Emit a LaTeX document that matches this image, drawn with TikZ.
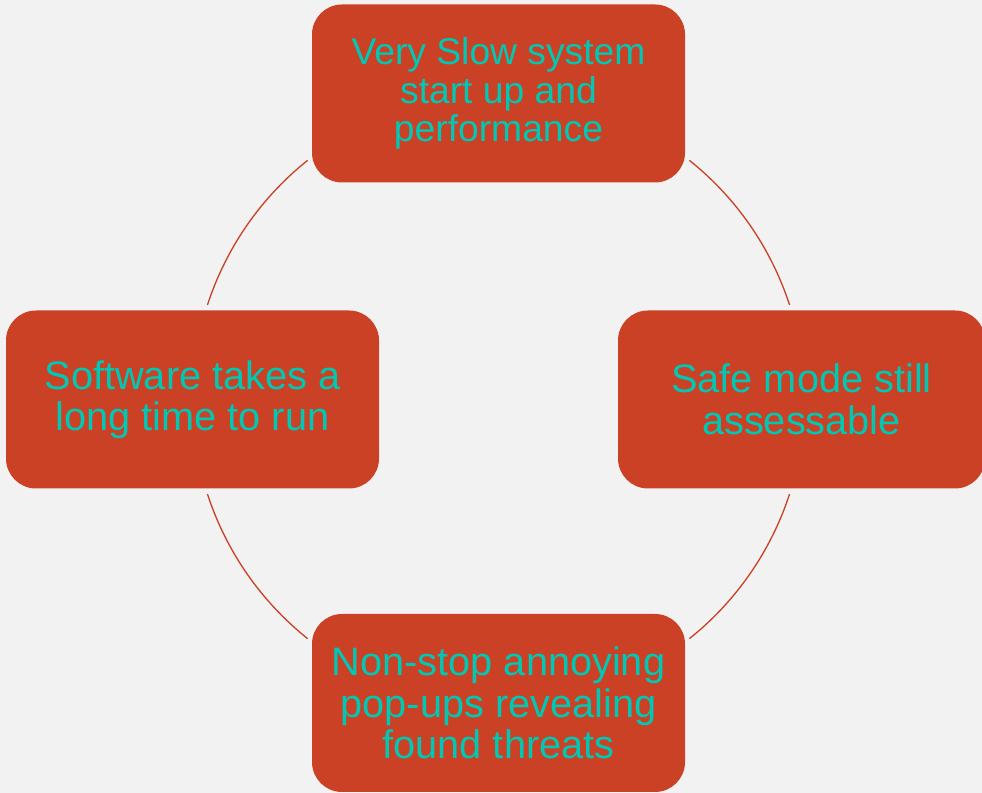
\documentclass[tikz,border=0pt]{standalone}
\usepackage{fontspec}
\setmainfont{Liberation Sans}
\usepackage{xcolor}
\usepackage{tikz}
\usetikzlibrary{positioning}

\definecolor{boxred}{RGB}{203,65,37}
\definecolor{boxtext}{RGB}{0,200,180}
\definecolor{bggray}{RGB}{242,242,242}

\begin{document}
\begin{tikzpicture}[
    every node/.style={font=\fontsize{22.6}{23.6}\selectfont},
    box/.style={rectangle, rounded corners=0.6cm, fill=boxred, text=boxtext,
                minimum width=7.46cm, minimum height=3.56cm, align=center, inner sep=0pt},
    ring/.style={draw=boxred, line width=0.75pt}
  ]

  % ── canvas: 982 x 793 px at 0.02 cm/px ─────────────────────────────────
  \fill[bggray] (0,0) rectangle (19.64,15.86);
  \useasboundingbox (0,0) rectangle (19.64,15.86);

  % circle of the cycle: centre (9.97,7.87), radius 6.12
  \coordinate (ctr) at (9.97,7.87);

  % ── arcs between the boxes ────────────────────────────────────────────
  \foreach \a/\b in {18/51.4, 128.6/162, 198/231.4, 308.6/342}
    \draw[ring] (ctr) ++(\a:6.12) arc[start angle=\a, end angle=\b, radius=6.12];

  % ── the four boxes ────────────────────────────────────────────────────
  % top text is set a little smaller (it fills its box)
  \node[box, font=\fontsize{21.2}{22}\selectfont] (slow) at (9.97, 13.99)
    {Very Slow system\\start up and\\performance};
  \node[box, minimum width=7.34cm] (safe) at (16.03, 7.87) {Safe mode still\\assessable};
  \node[box] (popups) at (9.97, 1.80)  {Non-stop annoying\\pop-ups revealing\\found threats};
  \node[box] (softw)  at (3.85, 7.87)  {Software takes a\\long time to run};

\end{tikzpicture}
\end{document}
